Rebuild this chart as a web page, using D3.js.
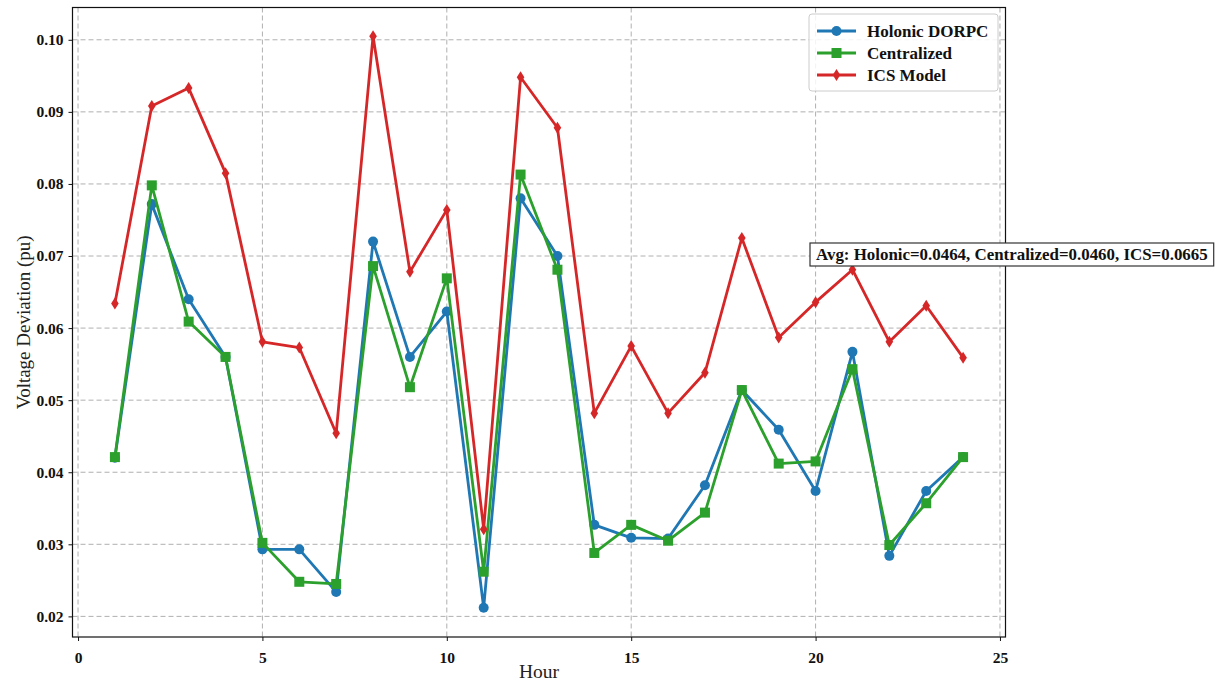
<!DOCTYPE html>
<html>
<head>
<meta charset="utf-8">
<script src="https://cdn.jsdelivr.net/npm/d3@7"></script>
<style>
  html, body { margin: 0; padding: 0; background: #fff; }
  svg { display: block; }
  text { font-family: "Liberation Serif", "Times New Roman", serif; }
</style>
</head>
<body>
<svg id="chart" width="1226" height="682"></svg>
<script>
// Hourly voltage deviation (pu) for three control schemes
const hours = d3.range(1, 25);
const holonic = [0.0420, 0.0772, 0.0640, 0.0560, 0.0293, 0.0293, 0.0234, 0.0720,
                 0.0560, 0.0623, 0.0212, 0.0780, 0.0700, 0.0327, 0.0309, 0.0308,
                 0.0382, 0.0514, 0.0459, 0.0374, 0.0567, 0.0284, 0.0374, 0.0421];
const centralized = [0.0421, 0.0798, 0.0609, 0.0560, 0.0302, 0.0248, 0.0245, 0.0686,
                     0.0518, 0.0669, 0.0262, 0.0813, 0.0681, 0.0288, 0.0327, 0.0305,
                     0.0344, 0.0514, 0.0412, 0.0415, 0.0543, 0.0299, 0.0357, 0.0421];
const ics = [0.0634, 0.0908, 0.0933, 0.0815, 0.0581, 0.0573, 0.0454, 0.1005,
             0.0678, 0.0764, 0.0321, 0.0948, 0.0878, 0.0482, 0.0575, 0.0482,
             0.0538, 0.0725, 0.0587, 0.0636, 0.0681, 0.0581, 0.0631, 0.0559];
const seriesNames = ["Holonic DORPC", "Centralized", "ICS Model"];
const xTicks = [0, 5, 10, 15, 20, 25];
const yTicks = [0.02, 0.03, 0.04, 0.05, 0.06, 0.07, 0.08, 0.09, 0.10];

const series = [
  { name: seriesNames[0], values: holonic, color: "#1f77b4", marker: "circle" },
  { name: seriesNames[1], values: centralized, color: "#2ca02c", marker: "square" },
  { name: seriesNames[2], values: ics, color: "#d62728", marker: "diamond" }
];

const svg = d3.select("#chart");
const frame = { left: 72.5, right: 1005.5, top: 7.5, bottom: 637 };

const x = d3.scaleLinear().domain([-0.15, 25.15]).range([frame.left, frame.right]);
const y = d3.scaleLinear().domain([0.01714, 0.10448]).range([frame.bottom, frame.top]);

// grid
const grid = svg.append("g");
grid.selectAll("line.gx").data(xTicks).join("line")
  .attr("x1", d => x(d)).attr("x2", d => x(d))
  .attr("y1", frame.top).attr("y2", frame.bottom)
  .attr("stroke", "#b0b0b0").attr("stroke-width", 1).attr("stroke-dasharray", "5,3");
grid.selectAll("line.gy").data(yTicks).join("line")
  .attr("x1", frame.left).attr("x2", frame.right)
  .attr("y1", d => y(d)).attr("y2", d => y(d))
  .attr("stroke", "#b0b0b0").attr("stroke-width", 1).attr("stroke-dasharray", "5,3");

// axes
const xAxis = d3.axisBottom(x).tickValues(xTicks).tickFormat(d3.format("d")).tickSize(4).tickPadding(11);
const yAxis = d3.axisLeft(y).tickValues(yTicks).tickFormat(d3.format(".2f")).tickSize(4).tickPadding(5);
const gx = svg.append("g").attr("transform", `translate(0,${frame.bottom})`).call(xAxis);
const gy = svg.append("g").attr("transform", `translate(${frame.left},0)`).call(yAxis);
[gx, gy].forEach(g => {
  g.select(".domain").remove();
  g.selectAll("text").attr("font-family", "Liberation Serif, serif")
    .attr("font-weight", "bold").attr("font-size", 15.5).attr("fill", "#111");
  g.selectAll("line").attr("stroke", "#111");
});

// frame
svg.append("rect")
  .attr("x", frame.left).attr("y", frame.top)
  .attr("width", frame.right - frame.left).attr("height", frame.bottom - frame.top)
  .attr("fill", "none").attr("stroke", "#111").attr("stroke-width", 1.2);

// axis titles
svg.append("text").attr("x", x(12.5)).attr("y", 678)
  .attr("text-anchor", "middle").attr("font-size", 19.5).attr("fill", "#222").text("Hour");
svg.append("text")
  .attr("transform", `translate(30,${(frame.top + frame.bottom) / 2}) rotate(-90)`)
  .attr("text-anchor", "middle").attr("font-size", 19).attr("fill", "#222")
  .text("Voltage Deviation (pu)");

// marker shapes
function drawMarker(g, type, cx, cy, color, scale) {
  const s = scale || 1;
  if (type === "circle") {
    g.append("circle").attr("cx", cx).attr("cy", cy).attr("r", 5 * s).attr("fill", color);
  } else if (type === "square") {
    const h = 5 * s;
    g.append("rect").attr("x", cx - h).attr("y", cy - h).attr("width", 2 * h).attr("height", 2 * h).attr("fill", color);
  } else {
    const w = 3.8 * s, h = 6 * s;
    g.append("path").attr("d", `M${cx},${cy - h}L${cx + w},${cy}L${cx},${cy + h}L${cx - w},${cy}Z`).attr("fill", color);
  }
}

const line = d3.line().x((d, i) => x(hours[i])).y(d => y(d));
const plot = svg.append("g");
series.forEach(s => {
  const g = plot.append("g");
  g.append("path").datum(s.values).attr("d", line)
    .attr("fill", "none").attr("stroke", s.color).attr("stroke-width", 2.8)
    .attr("stroke-linejoin", "round");
  s.values.forEach((v, i) => drawMarker(g, s.marker, x(hours[i]), y(v), s.color));
});

// legend
const lg = svg.append("g");
lg.append("rect").attr("x", 809).attr("y", 14).attr("width", 189).attr("height", 77)
  .attr("rx", 3).attr("fill", "rgba(255,255,255,0.85)").attr("stroke", "#cccccc").attr("stroke-width", 1);
series.forEach((s, i) => {
  const ly = 31 + i * 22;
  lg.append("line").attr("x1", 817).attr("x2", 856).attr("y1", ly).attr("y2", ly)
    .attr("stroke", s.color).attr("stroke-width", 2.8);
  drawMarker(lg, s.marker, 836.5, ly, s.color);
  lg.append("text").attr("x", 867).attr("y", ly + 5.5)
    .attr("font-size", 17).attr("font-weight", "bold").attr("fill", "#111").text(s.name);
});

// average annotation
const avg = arr => d3.mean(arr).toFixed(4);
const note = `Avg: Holonic=${avg(holonic)}, Centralized=${avg(centralized)}, ICS=${avg(ics)}`;
const ag = svg.append("g");
const at = ag.append("text").attr("x", 816).attr("y", 260)
  .attr("font-size", 16.9).attr("font-weight", "bold").attr("fill", "#111").text(note);
const bb = at.node().getBBox();
ag.insert("rect", "text").attr("x", bb.x - 6).attr("y", 243).attr("width", bb.width + 12).attr("height", 23)
  .attr("fill", "#fff").attr("stroke", "#333").attr("stroke-width", 1.2);
</script>
</body>
</html>
